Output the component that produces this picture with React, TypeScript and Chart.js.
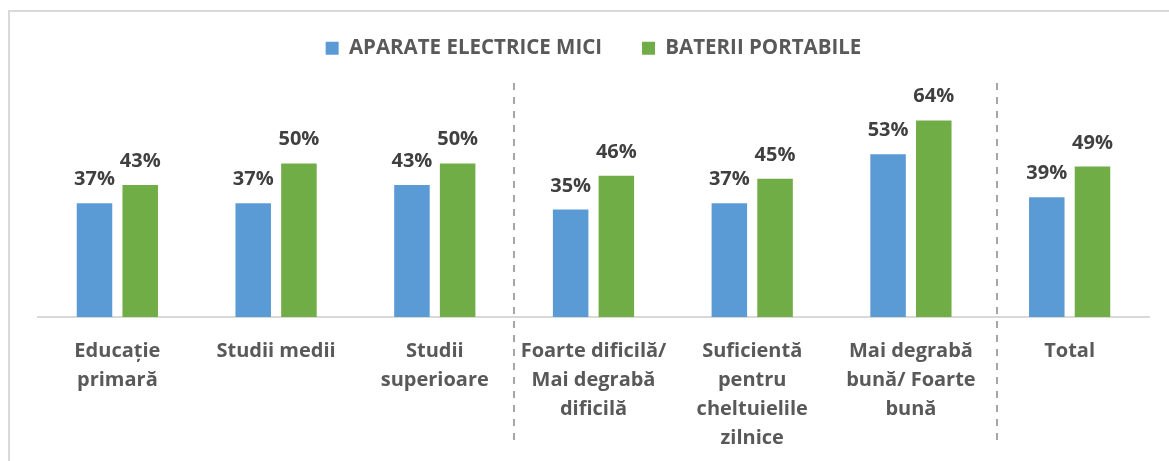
import React, { useEffect, useRef } from "react";
import { Chart, registerables } from "chart.js";

Chart.register(...registerables);

const categories: string[][] = [
  ["Educație", "primară"],
  ["Studii medii"],
  ["Studii", "superioare"],
  ["Foarte dificilă/", "Mai degrabă", "dificilă"],
  ["Suficientă", "pentru", "cheltuielile", "zilnice"],
  ["Mai degrabă", "bună/ Foarte", "bună"],
  ["Total"],
];

const seriesNames = ["APARATE ELECTRICE MICI", "BATERII PORTABILE"];
const aparateElectriceMici = [37, 37, 43, 35, 37, 53, 39];
const bateriiPortabile = [43, 50, 50, 46, 45, 64, 49];
const seriesColors = ["#5B9BD5", "#70AD47"];

// group separators, expressed as category positions
const dividerPositions = [2.5, 5.54];

const FONT = '"Open Sans", "DejaVu Sans", sans-serif';

const legendHeightPlugin = {
  id: "legendHeight",
  beforeLayout(chart: any) {
    const legend = chart.legend;
    if (legend && !legend.__patched) {
      const orig = legend.fit;
      legend.fit = function () {
        orig.call(this);
        this.height = 90;
      };
      legend.__patched = true;
    }
  },
  afterLayout(chart: any) {
    const legend = chart.legend;
    if (legend) {
      legend.top -= 14;
      legend.bottom -= 14;
    }
  },
};

const valueLabelPlugin = {
  id: "valueLabels",
  afterDatasetsDraw(chart: any) {
    const ctx = chart.ctx;
    ctx.save();
    ctx.font = `bold 20px ${FONT}`;
    ctx.fillStyle = "#404040";
    ctx.textAlign = "center";
    ctx.textBaseline = "alphabetic";
    chart.data.datasets.forEach((ds: any, di: number) => {
      const meta = chart.getDatasetMeta(di);
      meta.data.forEach((bar: any, i: number) => {
        ctx.fillText(`${ds.data[i]}%`, bar.x, bar.y - 18);
      });
    });
    ctx.restore();
  },
};

const dividerPlugin = {
  id: "dividers",
  afterDraw(chart: any) {
    const ctx = chart.ctx;
    const xs = chart.scales.x;
    ctx.save();
    ctx.strokeStyle = "#a6a6a6";
    ctx.lineWidth = 2;
    ctx.setLineDash([7, 7]);
    dividerPositions.forEach((p) => {
      const i = Math.floor(p);
      const f = p - i;
      const x0 = xs.getPixelForValue(i);
      const x1 = xs.getPixelForValue(i + 1);
      const x = Math.round(x0 + f * (x1 - x0));
      ctx.beginPath();
      ctx.moveTo(x, 71);
      ctx.lineTo(x, 429);
      ctx.stroke();
    });
    ctx.restore();
  },
};

export default function App() {
  const ref = useRef<HTMLCanvasElement>(null);

  useEffect(() => {
    if (!ref.current) return;
    Chart.defaults.font.family = FONT;
    const chart = new Chart(ref.current, {
      type: "bar",
      data: {
        labels: categories,
        datasets: [
          {
            label: seriesNames[0],
            data: aparateElectriceMici,
            backgroundColor: seriesColors[0],
            categoryPercentage: 0.576,
            barPercentage: 0.777,
          },
          {
            label: seriesNames[1],
            data: bateriiPortabile,
            backgroundColor: seriesColors[1],
            categoryPercentage: 0.576,
            barPercentage: 0.777,
          },
        ],
      },
      options: {
        responsive: false,
        animation: false,
        devicePixelRatio: 1,
        layout: { padding: { left: 28, right: 20, top: 0, bottom: 0 } },
        plugins: {
          legend: {
            position: "top",
            labels: {
              boxWidth: 13,
              boxHeight: 13,
              padding: 40,
              color: "#595959",
              font: { size: 20.5, weight: "bold", family: FONT },
            },
          },
          tooltip: { enabled: false },
        },
        scales: {
          x: {
            grid: { display: true, drawOnChartArea: false, drawTicks: false },
            border: { display: true, color: "#d9d9d9", width: 2 },
            ticks: {
              autoSkip: false,
              maxRotation: 0,
              minRotation: 0,
              padding: 20,
              color: "#595959",
              font: { size: 20, weight: "bold", family: FONT, lineHeight: 1.45 },
            },
            afterFit(scale: any) {
              scale.height = 144;
            },
          },
          y: {
            display: false,
            min: 0,
            max: 70,
          },
        },
      },
      plugins: [legendHeightPlugin, valueLabelPlugin, dividerPlugin],
    } as any);
    return () => chart.destroy();
  }, []);

  return (
    <div
      style={{
        position: "absolute",
        left: 8,
        top: 10,
        width: 1161,
        height: 451,
        boxSizing: "border-box",
        borderTop: "2px solid #d9d9d9",
        borderLeft: "2px solid #d9d9d9",
        background: "#fff",
      }}
    >
      <canvas ref={ref} width={1159} height={449} style={{ display: "block" }} />
    </div>
  );
}
